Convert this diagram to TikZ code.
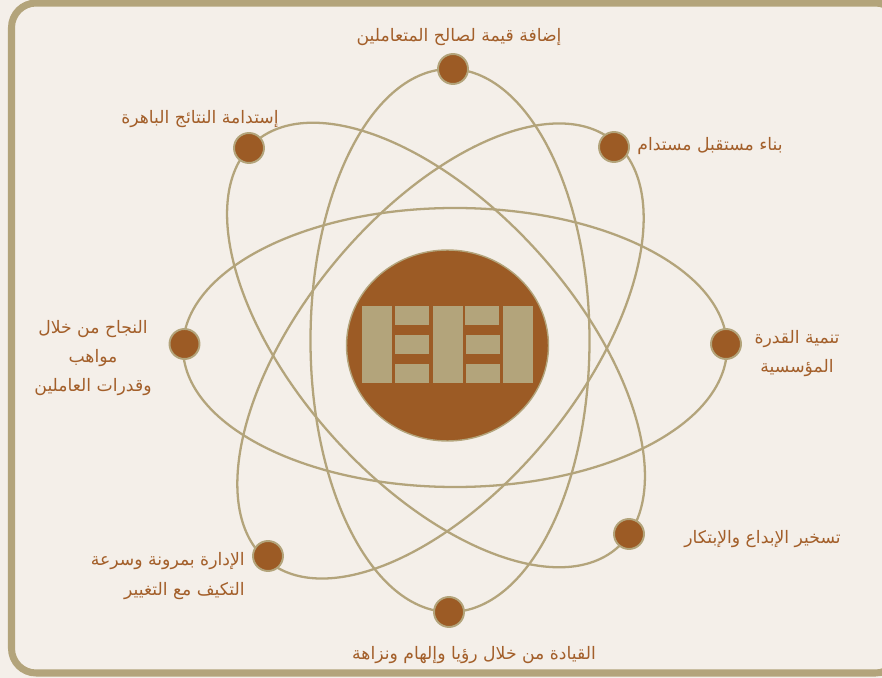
\documentclass[tikz,border=0pt]{standalone}
\usepackage{fontspec}
\usepackage{xcolor}
\usetikzlibrary{shapes.geometric}
\TeXXeTstate=1
\newfontfamily\arabicfont[Script=Arabic]{DejaVu Sans}
\definecolor{paper}{HTML}{F4EFE9}
\definecolor{sand}{HTML}{B3A47B}
\definecolor{bronze}{HTML}{9C5B25}
\definecolor{labeltext}{HTML}{A35F2A}
\newcommand{\artext}[1]{\beginR #1\endR}
\tikzset{
  orbit/.style={draw=sand, line width=1.3pt},
  electron/.style={circle, fill=bronze, draw=sand, line width=1.1pt, minimum size=0.6cm, inner sep=0pt},
  goal/.style={text=labeltext, font=\arabicfont\fontsize{9.8}{16.7}\selectfont, inner sep=0pt, align=center},
}
\begin{document}
\begin{tikzpicture}[x=0.02cm, y=-0.02cm]
\clip (0,0) rectangle (882,678);
\fill[paper] (0,0) rectangle (882,678);
\draw[sand, line width=4pt, rounded corners=14pt] (11.5,3) rectangle (900,673);
% the four orbits
\draw[orbit] (455,347.5) ellipse [x radius=272, y radius=139.5];
\draw[orbit] (450,340.5) ellipse [x radius=139.5, y radius=271.5];
\draw[orbit] (436,345) ellipse [x radius=272, y radius=138, rotate=-48];
\draw[orbit] (440.5,351) ellipse [x radius=272, y radius=138, rotate=50.5];
% centre
\node[ellipse, fill=bronze, draw=sand, line width=0.8pt, minimum width=4.04cm, minimum height=3.82cm, inner sep=0pt] (core) at (447.5,345.5) {};
\foreach \x in {362,433,503}
  \fill[sand] (\x,306) rectangle (\x+30,382.7);
\foreach \y in {306,335,364}
  \fill[sand] (395,\y) rectangle (429,\y+18.7);
\fill[sand] (465,306) rectangle (499,324.7);
\fill[sand] (466,335) rectangle (500,353.7);
\fill[sand] (466,364) rectangle (500,382.7);
% ring of points
\node[electron] (top) at (453,69) {};
\node[electron] (topright) at (614,147) {};
\node[electron] (right) at (726,344) {};
\node[electron] (bottomright) at (629,534) {};
\node[electron] (bottom) at (449,612) {};
\node[electron] (bottomleft) at (268,556) {};
\node[electron] (left) at (184.5,344) {};
\node[electron] (topleft) at (249,148) {};
% labels
\node[goal] (toplabel) at (459,37.5) {\artext{إضافة قيمة لصالح المتعاملين}};
\node[goal, anchor=east] (toprightlabel) at (783,146.5) {\artext{بناء مستقبل مستدام}};
\node[goal] (rightlabel) at (797,353.5) {\artext{تنمية القدرة}\\\artext{المؤسسية}};
\node[goal, anchor=east] (bottomrightlabel) at (841,539.5) {\artext{تسخير الإبداع والإبتكار}};
\node[goal] (bottomlabel) at (474,655.5) {\artext{القيادة من خلال رؤيا وإلهام ونزاهة}};
\node[goal, anchor=east, align=right] (bottomleftlabel) at (245,576) {\artext{الإدارة بمرونة وسرعة}\\\artext{التكيف مع التغيير}};
\node[goal] (leftlabel) at (93,358) {\artext{النجاح من خلال}\\\artext{مواهب}\\\artext{وقدرات العاملين}};
\node[goal, anchor=east] (topleftlabel) at (279,119.5) {\artext{إستدامة النتائج الباهرة}};
\end{tikzpicture}
\end{document}
